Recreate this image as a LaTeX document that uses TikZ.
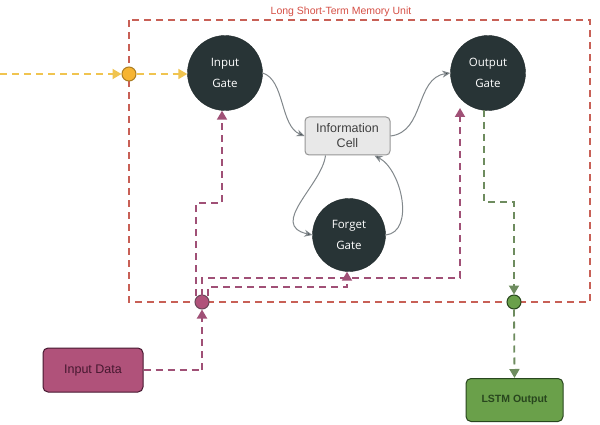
\documentclass[tikz,border=0pt]{standalone}
\usepackage{fontspec}
\setmainfont{Liberation Sans}
\newfontfamily\gatefont{Open Sans}
\usetikzlibrary{arrows.meta}
\definecolor{boxred}{RGB}{200,96,86}
\definecolor{titlered}{RGB}{214,80,70}
\definecolor{gatedark}{RGB}{40,52,54}
\definecolor{mauve}{RGB}{160,80,118}
\definecolor{mauvefill}{RGB}{176,82,122}
\definecolor{mauvedark}{RGB}{70,24,48}
\definecolor{yel}{RGB}{240,196,80}
\definecolor{yelfill}{RGB}{246,180,50}
\definecolor{grn}{RGB}{110,140,95}
\definecolor{grnfill}{RGB}{106,160,74}
\definecolor{grndark}{RGB}{40,70,30}
\definecolor{cellfill}{RGB}{232,232,232}
\definecolor{cellline}{RGB}{150,150,150}
\definecolor{curve}{RGB}{130,136,140}
\tikzset{
  x=1pt, y=-1pt,
  gatenode/.style={circle, fill=gatedark, draw=gatedark!80!black, minimum size=75pt, inner sep=0pt,
    text=white, align=center, font=\gatefont\fontsize{11.5}{21}\selectfont},
  cellnode/.style={rectangle, rounded corners=4pt, fill=cellfill, draw=cellline, line width=1pt,
    minimum width=85pt, minimum height=38pt, align=center, text=black!75,
    font=\fontsize{12.5}{15}\selectfont},
  databox/.style={rectangle, rounded corners=5pt, fill=mauvefill, draw=mauvedark, line width=1pt,
    minimum width=100pt, minimum height=44pt, text=mauvedark, font=\fontsize{12.5}{14}\selectfont},
  outbox/.style={rectangle, rounded corners=5pt, fill=grnfill, draw=grndark, line width=1pt,
    minimum width=97pt, minimum height=43pt, text=grndark, font=\bfseries\fontsize{10.5}{12}\selectfont},
  junc/.style={circle, minimum size=14pt, inner sep=0pt, line width=1pt},
  dashline/.style={dash pattern=on 7pt off 5pt, line width=1.8pt},
  flowcurve/.style={draw=curve, line width=1pt, -{Stealth[length=8pt,width=7pt,fill=gatedark]}},
  tri/.style={-{Triangle[length=9pt,width=10pt]}},
}
\begin{document}
\begin{tikzpicture}
\useasboundingbox (0,0) rectangle (600,425);
\fill[white] (0,0) rectangle (600,425);

% memory unit frame
\coordinate (tl) at (129,20);
\coordinate (br) at (590,302);
\draw[boxred, dashline] (tl) rectangle (br);
\node[text=titlered, font=\fontsize{10.5}{12}\selectfont, inner sep=0pt] (title) at (341,12) {Long Short-Term Memory Unit};

% gates and cell
\node[gatenode] (ig) at (225,73) {Input\\Gate};
\node[gatenode] (og) at (488,73) {Output\\Gate};
\node[gatenode, minimum size=73pt] (fg) at (349,235) {Forget\\Gate};
\node[cellnode] (cell) at (347.5,136) {Information\\Cell};

% boxes
\node[databox] (data) at (93,370) {Input Data};
\node[outbox] (lstm) at (514.5,400) {LSTM Output};

% junctions
\node[junc, fill=yelfill, draw=yelfill!70!black] (yj) at (129,74) {};
\node[junc, fill=mauvefill, draw=mauvedark!80] (pj) at (202,302) {};
\node[junc, fill=grnfill, draw=grndark] (gj) at (514,302) {};

% yellow line
\coordinate (ystart) at (0,74);
\draw[yel, dashline, tri] (ystart) -- (yj.west);
\draw[yel, dashline, tri] (yj.east) -- (ig.west |- yj.east);

% curves
\draw[flowcurve] (ig.east) .. controls (285,80) and (280,126) .. (cell.west);
\draw[flowcurve] (cell.east) .. controls (425,132) and (415,78) .. (og.west);
\draw[flowcurve] (cell.south) ++(-22,0) coordinate (cs1) (cs1) .. controls (322,185) and (268,225) .. (fg.west);
\draw[flowcurve] (fg.east) .. controls (415,232) and (402,170) .. ([xshift=27pt]cell.south);

% purple input lines
\coordinate (p1) at (202,370);
\draw[mauve, dashline] (data.east) -- (p1);
\draw[mauve, dashline, tri] (p1) -- (pj.south);

\coordinate (a0) at (196,296);
\coordinate (a1) at (196,203);
\coordinate (a2) at (222,203);
\draw[mauve, dashline, tri] (a0) -- (a1) -- (a2) -- (a2 |- ig.south);

\coordinate (b0) at (202,296);
\coordinate (b1) at (202,278);
\coordinate (b2) at (460,278);
\draw[mauve, dashline, tri] (b0) -- (b1) -- (b2) -- (b2 |- 0,108);

\coordinate (c0) at (208,296);
\coordinate (c1) at (208,287);
\coordinate (c2) at (347,287);
\draw[mauve, dashline, tri] (c0) -- (c1) -- (c2) -- (c2 |- fg.south);

% green output lines
\coordinate (g0) at (484,110);
\coordinate (g1) at (484,202);
\coordinate (g2) at (514,202);
\draw[grn, dashline, tri] (g0) -- (g1) -- (g2) -- (gj.north);
\draw[grn, dashline, tri] (gj.south) -- (lstm.north);
\end{tikzpicture}
\end{document}
